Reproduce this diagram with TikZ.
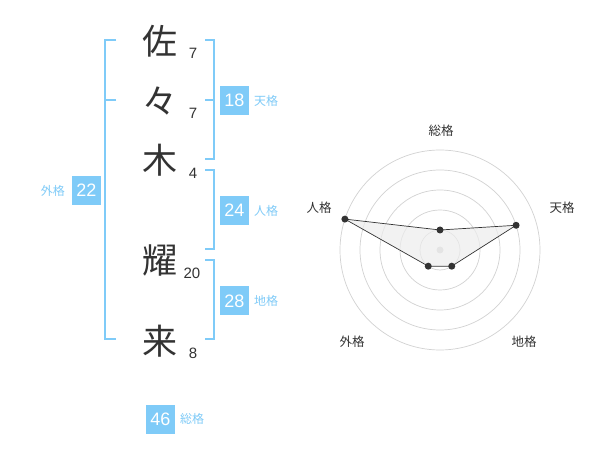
\documentclass[tikz,border=0pt]{standalone}
\usepackage{fontspec}
\setmainfont{Liberation Sans}
\newfontfamily\jp{Noto Sans CJK JP}
\definecolor{kakublue}{HTML}{7FCBF8}
\definecolor{ink}{HTML}{333333}
\definecolor{ringgray}{HTML}{D2D2D2}

\begin{document}
\begin{tikzpicture}[x=1pt,y=-1pt,
		kanji/.style={font=\jp\fontsize{35}{35}\selectfont,text=ink,inner sep=0pt},
		strokes/.style={font=\fontsize{15}{15}\selectfont,text=ink,inner sep=0pt},
		kaku/.style={fill=kakublue,text=white,font=\fontsize{18}{18}\selectfont,minimum size=29pt,inner sep=0pt},
		kakuname/.style={font=\jp\fontsize{12}{12}\selectfont,text=kakublue,inner sep=0pt},
		bracket/.style={draw=kakublue,line width=2pt},
		axisname/.style={font=\jp\fontsize{12.5}{12.5}\selectfont,text=ink,inner sep=0pt},
		ring/.style={draw=ringgray,line width=0.7pt},
		dot/.style={circle,fill=ink,inner sep=0pt,minimum size=7pt}]
		\useasboundingbox[fill=white] (0,0) rectangle (600,470);
		
		% name
		\node[kanji] (sa) at (160,41) {佐};
		\node[kanji] (noma) at (160,101) {々};
		\node[kanji] (ki) at (160,160) {木};
		\node[kanji] (you) at (160,260) {耀};
		\node[kanji] (rai) at (160,341) {来};
		\node[strokes] (sa-n) at (193,53) {7};
		\node[strokes] (noma-n) at (193,113) {7};
		\node[strokes] (ki-n) at (193,173) {4};
		\node[strokes] (you-n) at (192,273) {20};
		\node[strokes] (rai-n) at (193,353) {8};
		
		% brackets
		\coordinate (gai-t) at (116,40);
		\coordinate (gai-m) at (116,100);
		\coordinate (gai-b) at (116,339);
		\draw[bracket] (gai-t) -| (105,339) -- (gai-b);
		\draw[bracket] (gai-m) -- (105,100);
		\coordinate (ten-t) at (205,40);
		\coordinate (ten-m) at (205,100);
		\coordinate (ten-b) at (205,159);
		\draw[bracket] (ten-t) -| (214,159) -- (ten-b);
		\draw[bracket] (ten-m) -- (214,100);
		\coordinate (jin-t) at (205,170);
		\coordinate (jin-b) at (205,249);
		\draw[bracket] (jin-t) -| (214,249) -- (jin-b);
		\coordinate (chi-t) at (205,260);
		\coordinate (chi-b) at (205,339);
		\draw[bracket] (chi-t) -| (214,339) -- (chi-b);
		
		% scores
		\node[kaku] (ten) at (234.5,100.5) {18};
		\node[kakuname,anchor=west] (ten-l) at (254,100.5) {天格};
		\node[kaku] (jin) at (234.5,210.5) {24};
		\node[kakuname,anchor=west] (jin-l) at (254,210.5) {人格};
		\node[kaku] (chi) at (234.5,301) {28};
		\node[kakuname,anchor=west] (chi-l) at (254,301) {地格};
		\node[kaku] (gai) at (86.5,190.5) {22};
		\node[kakuname,anchor=east] (gai-l) at (65,190.5) {外格};
		\node[kaku] (sou) at (160.5,419) {46};
		\node[kakuname,anchor=west] (sou-l) at (180,419) {総格};
		
		% radar
		\coordinate (c) at (440,250);
		\foreach \r in {20,40,...,100}
		\draw[ring] (c) circle[radius=\r pt];
		\node[circle,fill=ringgray,inner sep=0pt,minimum size=7pt] (mid) at (c) {};
		\coordinate (p-sou) at ([shift={(c)}]90:20pt);
		\coordinate (p-ten) at ([shift={(c)}]18:80pt);
		\coordinate (p-chi) at ([shift={(c)}]-54:20pt);
		\coordinate (p-gai) at ([shift={(c)}]-126:20pt);
		\coordinate (p-jin) at ([shift={(c)}]162:100pt);
		\draw[fill=black!7,fill opacity=0.7,draw=ink,line width=0.7pt]
		(p-sou) -- (p-ten) -- (p-chi) -- (p-gai) -- (p-jin) -- cycle;
		\foreach \p in {sou,ten,chi,gai,jin}
		\node[dot] (d-\p) at (p-\p) {};
		\node[axisname] (a-sou) at (441,130.5) {総格};
		\node[axisname] (a-ten) at (562,208) {天格};
		\node[axisname] (a-jin) at (319,208) {人格};
		\node[axisname] (a-gai) at (352,341.5) {外格};
		\node[axisname] (a-chi) at (524,341.5) {地格};
	\end{tikzpicture}
\end{document}
